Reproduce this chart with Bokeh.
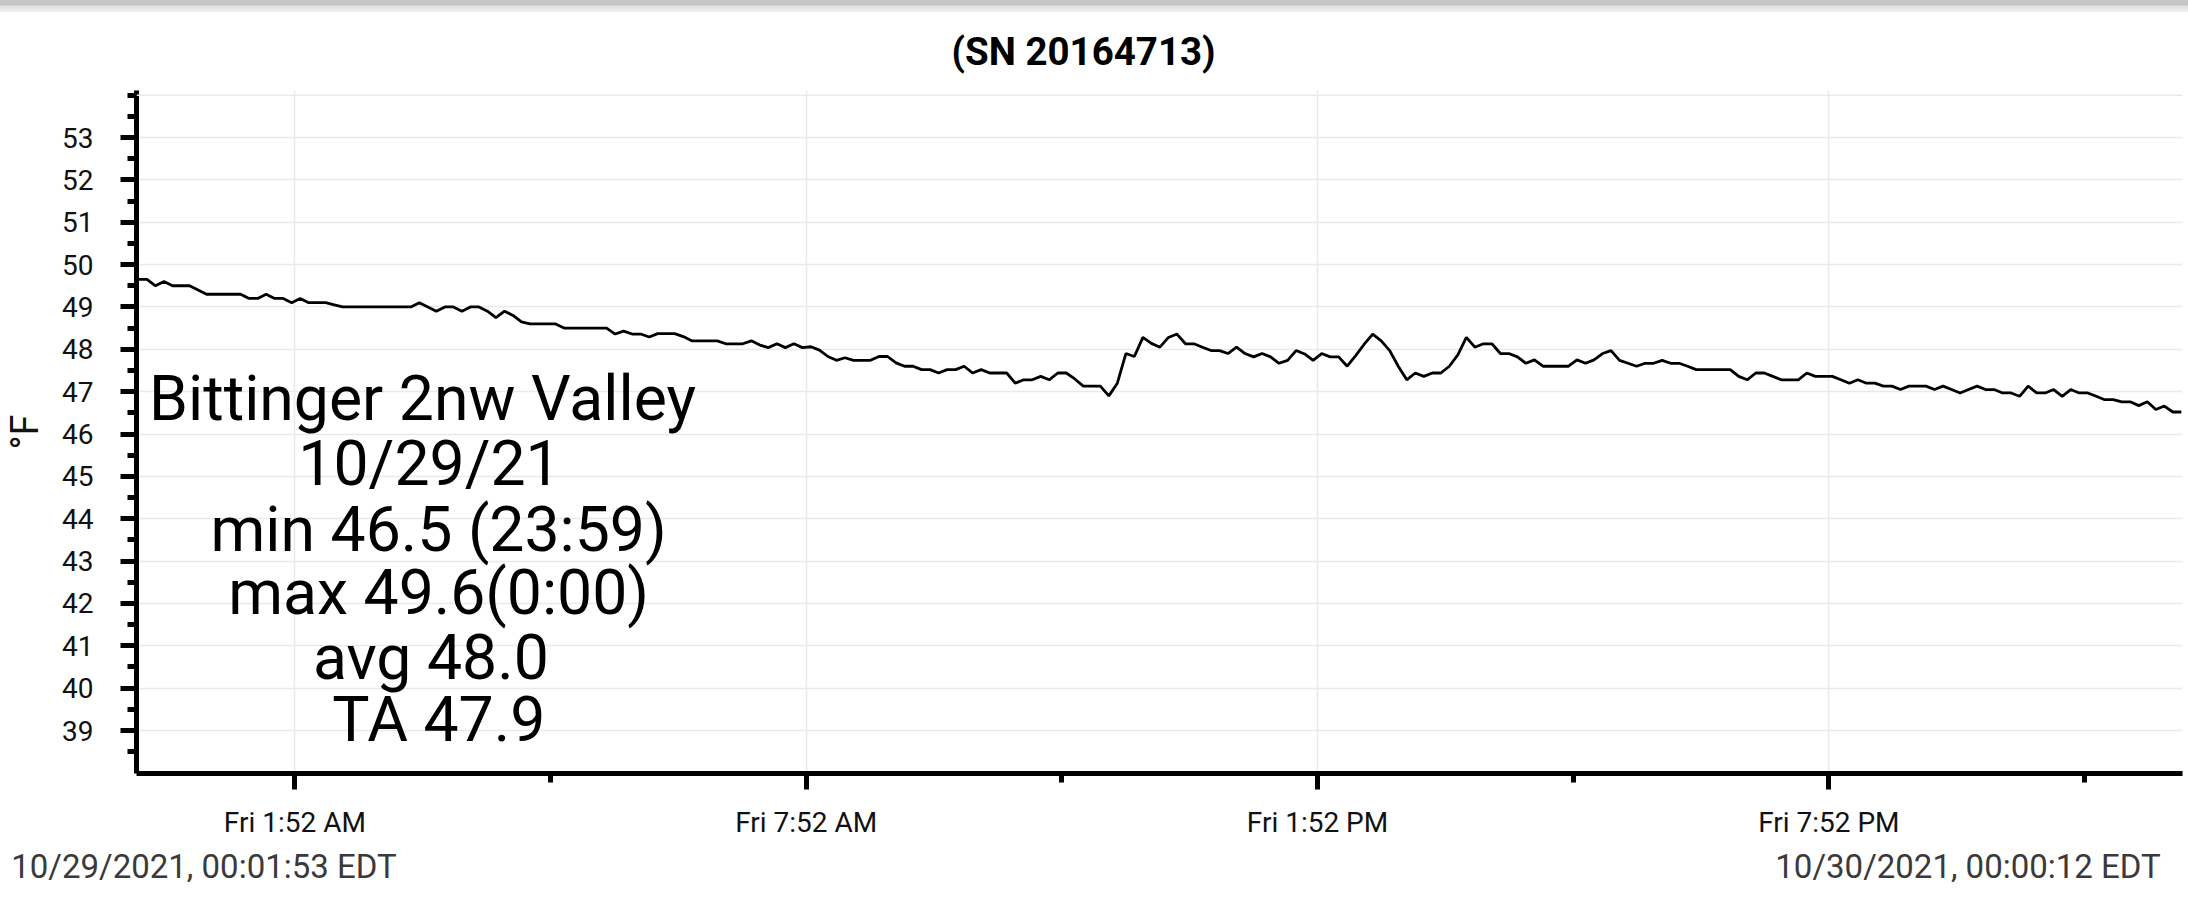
from bokeh.plotting import figure
from bokeh.models import FixedTicker, Span, Range1d, LinearAxis, Div
from bokeh.layouts import column
from bokeh.embed import file_html
from bokeh.resources import INLINE
from bokeh.core.properties import value
import numpy as np

# ---------------- data ----------------
title_text = "(SN 20164713)"
y_axis_label = "°F"
start_label = "10/29/2021, 00:01:53 EDT"
end_label = "10/30/2021, 00:00:12 EDT"
start_minute = 1 + 53 / 60          # 00:01:53 on 10/29
end_minute = 24 * 60 + 12 / 60      # 00:00:12 on 10/30

temps_f = [
    49.65, 49.65, 49.5, 49.6, 49.5, 49.5, 49.5, 49.4, 49.3, 49.3,
    49.3, 49.3, 49.3, 49.2, 49.2, 49.3, 49.2, 49.2, 49.1, 49.2,
    49.1, 49.1, 49.1, 49.05, 49.0, 49.0, 49.0, 49.0, 49.0, 49.0,
    49.0, 49.0, 49.0, 49.1, 49.0, 48.9, 49.0, 49.0, 48.9, 49.0,
    49.0, 48.9, 48.75, 48.9, 48.8, 48.65, 48.6, 48.6, 48.6, 48.6,
    48.5, 48.5, 48.5, 48.5, 48.5, 48.5, 48.36, 48.43, 48.36, 48.36,
    48.29, 48.37, 48.37, 48.37, 48.3, 48.2, 48.2, 48.2, 48.2, 48.13,
    48.13, 48.13, 48.2, 48.1, 48.04, 48.13, 48.04, 48.13, 48.04, 48.06,
    47.98, 47.83, 47.74, 47.8, 47.74, 47.74, 47.74, 47.83, 47.83, 47.68,
    47.6, 47.6, 47.52, 47.52, 47.44, 47.52, 47.52, 47.6, 47.44, 47.52,
    47.44, 47.44, 47.44, 47.2, 47.28, 47.28, 47.36, 47.28, 47.44, 47.44,
    47.3, 47.13, 47.13, 47.13, 46.9, 47.2, 47.9, 47.83, 48.28, 48.14,
    48.05, 48.28, 48.36, 48.13, 48.13, 48.05, 47.97, 47.97, 47.9, 48.05,
    47.9, 47.82, 47.9, 47.82, 47.67, 47.74, 47.97, 47.89, 47.74, 47.9,
    47.82, 47.82, 47.6, 47.85, 48.12, 48.36, 48.2, 47.97, 47.6, 47.28,
    47.44, 47.36, 47.44, 47.44, 47.6, 47.87, 48.28, 48.05, 48.13, 48.13,
    47.9, 47.9, 47.82, 47.67, 47.75, 47.6, 47.6, 47.6, 47.6, 47.75,
    47.67, 47.75, 47.9, 47.97, 47.74, 47.67, 47.6, 47.67, 47.67, 47.74,
    47.67, 47.67, 47.6, 47.52, 47.52, 47.52, 47.52, 47.52, 47.36, 47.28,
    47.44, 47.44, 47.36, 47.28, 47.28, 47.28, 47.44, 47.36, 47.36, 47.36,
    47.28, 47.2, 47.28, 47.2, 47.2, 47.13, 47.13, 47.05, 47.13, 47.13,
    47.13, 47.05, 47.13, 47.05, 46.97, 47.05, 47.13, 47.05, 47.05, 46.97,
    46.97, 46.89, 47.13, 46.97, 46.97, 47.05, 46.89, 47.05, 46.97, 46.97,
    46.89, 46.81, 46.81, 46.76, 46.76, 46.67, 46.76, 46.58, 46.66, 46.52,
    46.52,
]

x_tick_minutes = [112, 472, 832, 1192]
x_tick_labels = ["Fri 1:52 AM", "Fri 7:52 AM", "Fri 1:52 PM", "Fri 7:52 PM"]
x_minor_minutes = [292, 652, 1012, 1372]
y_ticks = list(range(39, 54))
y_minor_ticks = [38.5 + 0.5 * i for i in range(32)]

stats_lines = [
    "Bittinger 2nw Valley",
    "10/29/21",
    "min 46.5 (23:59)",
    "max 49.6(0:00)",
    "avg  48.0",
    "TA  47.9",
]

# sample times: evenly spaced readings from first to last timestamp
times_min = np.linspace(start_minute, end_minute, len(temps_f))

# ---------------- layout ----------------
BAND_H = 12
band = Div(text="", width=2188, height=BAND_H,
           styles={"background": "linear-gradient(to bottom, #c6c6c6 0px, #c6c6c6 5px, "
                                 "#dedede 6px, #f1f1f1 12px)",
                   "margin": "0", "padding": "0"})

p = figure(
    width=2188, height=901 - BAND_H,
    output_backend="svg", toolbar_location=None,
    x_range=Range1d(0.5, 1441.0), y_range=Range1d(37.985, 54.11),
    min_border_left=136, min_border_right=6,
    min_border_top=90 - BAND_H, min_border_bottom=128,
    background_fill_color="white", border_fill_color="white",
)
p.outline_line_color = None

# title
p.title.text = title_text
p.title.align = "left"
p.title.offset = 815
p.title.vertical_align = "top"
p.title.text_font = "Roboto"
p.title.text_font_size = "38.5px"
p.title.text_font_style = "bold"
p.title.text_color = "black"
p.title.standoff = 30

p.line(times_min, temps_f, line_color="black", line_width=2.8)

# axes
xa = p.xaxis[0]
ya = p.yaxis[0]
xa.ticker = FixedTicker(ticks=x_tick_minutes, minor_ticks=x_minor_minutes)
xa.major_label_overrides = {t: l for t, l in zip(x_tick_minutes, x_tick_labels)}
ya.ticker = FixedTicker(ticks=y_ticks, minor_ticks=y_minor_ticks)

for ax in (xa, ya):
    ax.axis_line_color = "black"
    ax.axis_line_width = 5
    ax.major_tick_line_color = "black"
    ax.minor_tick_line_color = "black"
    ax.major_tick_line_width = 5
    ax.minor_tick_line_width = 5
    ax.major_tick_in = 0
    ax.minor_tick_in = 0
    ax.major_tick_out = 16
    ax.minor_tick_out = 9
    ax.major_label_text_font = "Roboto"
    ax.major_label_text_font_size = "28px"
    ax.major_label_text_color = "#111111"

xa.major_label_standoff = 16
ya.major_label_standoff = 27
ya.axis_label = y_axis_label
ya.axis_label_text_font = "Roboto"
ya.axis_label_text_font_size = "38px"
ya.axis_label_text_font_style = "normal"
ya.axis_label_text_color = "#111111"
ya.axis_label_standoff = 12

# start / end timestamps shown under the time axis
stamp_minutes = [48, 1290]
stamp_axis = LinearAxis(
    ticker=FixedTicker(ticks=stamp_minutes, minor_ticks=[]),
    major_label_overrides={stamp_minutes[0]: start_label, stamp_minutes[1]: end_label},
    axis_line_color=None, major_tick_line_color=None, minor_tick_line_color=None,
    major_tick_out=0, major_tick_in=0, major_label_standoff=5,
    major_label_text_font="Roboto", major_label_text_font_size="33px",
    major_label_text_color="#3a3a3a",
)
p.add_layout(stamp_axis, "below")

p.grid.grid_line_color = "#e9e9e9"
p.grid.grid_line_width = 1.5
p.add_layout(Span(location=54, dimension="width", line_color="#e9e9e9", line_width=1.5))

# station summary text
stats_x = [201.9, 206.8, 213.2, 213.2, 213.2, 218.8]
stats_y = [46.83, 45.30, 43.75, 42.25, 40.72, 39.26]
p.text(x=stats_x, y=stats_y, text=stats_lines,
       text_font=value("Roboto"), text_font_size=value("62.5px"),
       text_align="center", text_baseline="alphabetic", text_color="black")

layout = column(band, p, spacing=0)
open("out.html", "w").write(file_html(layout, INLINE))
